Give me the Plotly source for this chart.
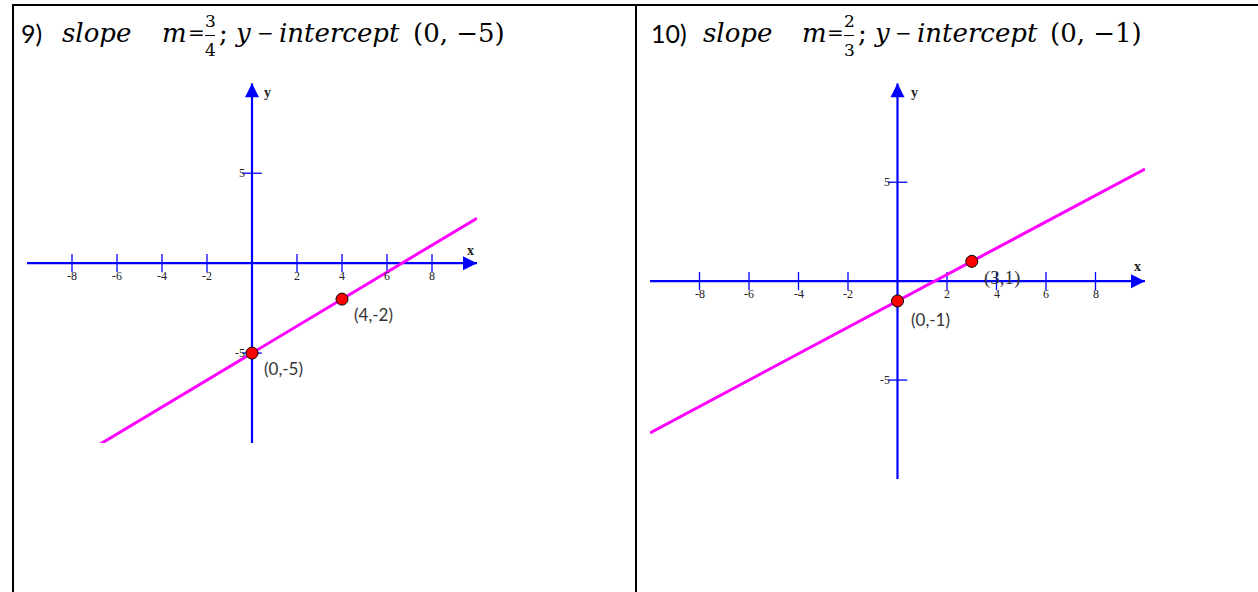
import plotly.graph_objects as go

W, H = 1258, 592

# ---------------- data ----------------
axis_range = [-10, 10]
x_tick_values = [-8, -6, -4, -2, 2, 4, 6, 8]
x_tick_labels = ["-8", "-6", "-4", "-2", "2", "4", "6", "8"]
y_tick_values = [-5, 5]
y_tick_labels = ["-5", "5"]

# problem 9
p1_number = "9)"
p1_slope_num = "3"
p1_slope_den = "4"
p1_intercept_text = "(0, −5)"
p1_line_x = [-10, 10]
p1_line_y = [-12.5, 2.5]
p1_points_x = [0, 4]
p1_points_y = [-5, -2]
p1_point_labels = ["(0,-5)", "(4,-2)"]

# problem 10
p2_number = "10)"
p2_slope_num = "2"
p2_slope_den = "3"
p2_intercept_text = "(0, −1)"
p2_line_x = [-10, 10]
p2_line_y = [-7.667, 5.667]
p2_points_x = [0, 3]
p2_points_y = [-1, 1]
p2_point_labels = ["(0,-1)", "(3,1)"]

# ---------------- helpers (layout positions in pixels) ----------------
def px(x):
    return x / W

def py(y):
    return 1 - y / H

BLUE = "#0000FF"
MAGENTA = "#FF00FF"
RED = "#FF0000"

fig = go.Figure()

panels = [
    dict(xa="x", ya="y", xdom=[px(27), px(477)], ydom=[py(443), py(83.3)],
         line_x=p1_line_x, line_y=p1_line_y, pts_x=p1_points_x, pts_y=p1_points_y,
         labels=p1_point_labels,
         label_shift=[(10, -15), (10, -15)], label_font=["Lato", "Lato"], label_size=[17, 17],
         yt_shift=-5, xl_shift=(-7, 13), yl_shift=(15, -9)),
    dict(xa="x2", ya="y2", xdom=[px(650), px(1145)], ydom=[py(479), py(83.3)],
         line_x=p2_line_x, line_y=p2_line_y, pts_x=p2_points_x, pts_y=p2_points_y,
         labels=p2_point_labels,
         label_shift=[(11, -19), (10, -17)], label_font=["Lato", "Liberation Serif"], label_size=[17, 19],
         yt_shift=-6, xl_shift=(-8, 15), yl_shift=(17, -9)),
]

annotations = []
shapes = []

for i, p in enumerate(panels):
    xa, ya = p["xa"], p["ya"]
    # axes lines
    fig.add_trace(go.Scatter(x=axis_range, y=[0, 0], mode="lines",
                             line=dict(color=BLUE, width=2.2), xaxis=xa, yaxis=ya,
                             hoverinfo="skip", showlegend=False))
    fig.add_trace(go.Scatter(x=[0, 0], y=axis_range, mode="lines",
                             line=dict(color=BLUE, width=2.2), xaxis=xa, yaxis=ya,
                             hoverinfo="skip", showlegend=False))
    # tick marks
    fig.add_trace(go.Scatter(x=x_tick_values, y=[0] * len(x_tick_values), mode="markers",
                             marker=dict(symbol="line-ns", size=13,
                                         line=dict(color=BLUE, width=1.3)),
                             xaxis=xa, yaxis=ya, hoverinfo="skip", showlegend=False,
                             cliponaxis=False))
    fig.add_trace(go.Scatter(x=[0] * len(y_tick_values), y=y_tick_values, mode="markers",
                             marker=dict(symbol="line-ew", size=14,
                                         line=dict(color=BLUE, width=1.3)),
                             xaxis=xa, yaxis=ya, hoverinfo="skip", showlegend=False,
                             cliponaxis=False))
    # graph line
    fig.add_trace(go.Scatter(x=p["line_x"], y=p["line_y"], mode="lines",
                             line=dict(color=MAGENTA, width=3), xaxis=xa, yaxis=ya,
                             hoverinfo="skip", showlegend=False))
    # points
    fig.add_trace(go.Scatter(x=p["pts_x"], y=p["pts_y"], mode="markers",
                             marker=dict(color=RED, size=12, line=dict(color="#000000", width=1)),
                             xaxis=xa, yaxis=ya, showlegend=False, cliponaxis=False))

    xref, yref = xa, ya
    # arrow heads
    annotations.append(dict(x=axis_range[1], y=0, xref=xref, yref=yref, ax=-14, ay=0,
                            axref="pixel", ayref="pixel", text="", showarrow=True,
                            arrowhead=2, arrowsize=1.4, arrowwidth=2, arrowcolor=BLUE))
    annotations.append(dict(x=0, y=axis_range[1], xref=xref, yref=yref, ax=0, ay=14,
                            axref="pixel", ayref="pixel", text="", showarrow=True,
                            arrowhead=2, arrowsize=1.4, arrowwidth=2, arrowcolor=BLUE))
    # tick labels
    for v, t in zip(x_tick_values, x_tick_labels):
        annotations.append(dict(x=v, y=0, xref=xref, yref=yref, text=t, showarrow=False,
                                yshift=-13, xanchor="center", yanchor="middle",
                                font=dict(family="Liberation Serif", size=12, color="#222222")))
    for v, t in zip(y_tick_values, y_tick_labels):
        annotations.append(dict(x=0, y=v, xref=xref, yref=yref, text=t, showarrow=False,
                                xshift=p["yt_shift"], xanchor="right", yanchor="middle",
                                font=dict(family="Liberation Serif", size=12, color="#222222")))
    # axis labels
    annotations.append(dict(x=axis_range[1], y=0, xref=xref, yref=yref, text="<b>x</b>",
                            showarrow=False, xshift=p["xl_shift"][0], yshift=p["xl_shift"][1],
                            xanchor="center", yanchor="middle",
                            font=dict(family="Liberation Serif", size=14, color="#222222")))
    annotations.append(dict(x=0, y=axis_range[1], xref=xref, yref=yref, text="<b>y</b>",
                            showarrow=False, xshift=p["yl_shift"][0], yshift=p["yl_shift"][1],
                            xanchor="center", yanchor="middle",
                            font=dict(family="Liberation Serif", size=14, color="#222222")))
    # point labels
    for xv, yv, lab, sh, fam, fs in zip(p["pts_x"], p["pts_y"], p["labels"],
                                        p["label_shift"], p["label_font"], p["label_size"]):
        annotations.append(dict(x=xv, y=yv, xref=xref, yref=yref, text=lab, showarrow=False,
                                xshift=sh[0], yshift=sh[1], xanchor="left", yanchor="middle",
                                font=dict(family=fam, size=fs, color="#333333")))

# ---------------- headings ----------------
def heading(x0, number, num, den, intercept, pos):
    ty = py(33)
    mfont = dict(family="DejaVu Serif", size=26, color="#000000")
    sfont = dict(family="DejaVu Serif", size=20, color="#000000")
    annotations.append(dict(x=px(x0), y=ty, xref="paper", yref="paper", text=number,
                            showarrow=False, xanchor="left", yanchor="middle",
                            font=dict(family="Lato", size=25, color="#000000")))
    pieces = [("<i>slope</i>", pos[0], mfont), ("<i>m</i>", pos[1], mfont), ("=", pos[2], sfont),
              (";", pos[4], mfont), ("<i>y</i>", pos[5], mfont), ("−", pos[6], sfont),
              ("<i>intercept</i>", pos[7], mfont), (intercept, pos[8], mfont)]
    for txt, xp, f in pieces:
        annotations.append(dict(x=px(xp), y=ty, xref="paper", yref="paper", text=txt,
                                showarrow=False, xanchor="left", yanchor="middle", font=f))
    ffont = dict(family="DejaVu Serif", size=17, color="#000000")
    annotations.append(dict(x=px(pos[3]), y=py(21), xref="paper", yref="paper", text=num,
                            showarrow=False, xanchor="center", yanchor="middle", font=ffont))
    annotations.append(dict(x=px(pos[3]), y=py(50), xref="paper", yref="paper", text=den,
                            showarrow=False, xanchor="center", yanchor="middle", font=ffont))
    shapes.append(dict(type="line", xref="paper", yref="paper",
                       x0=px(pos[3] - 5), x1=px(pos[3] + 5), y0=py(35.5), y1=py(35.5),
                       line=dict(color="#000000", width=1)))

heading(19, p1_number, p1_slope_num, p1_slope_den, p1_intercept_text,
        [60, 160, 186, 210, 217, 233, 255, 277, 411])
heading(649, p2_number, p2_slope_num, p2_slope_den, p2_intercept_text,
        [701, 800, 825, 849, 856, 872, 893, 915, 1048])

# ---------------- table borders ----------------
border = dict(color="#000000", width=2)
shapes.append(dict(type="line", xref="paper", yref="paper", x0=px(12), x1=1, y0=py(5), y1=py(5), line=border))
shapes.append(dict(type="line", xref="paper", yref="paper", x0=px(13), x1=px(13), y0=py(5), y1=0, line=border))
shapes.append(dict(type="line", xref="paper", yref="paper", x0=px(636), x1=px(636), y0=py(5), y1=0, line=border))

axis_common = dict(visible=False, range=axis_range, fixedrange=True, showgrid=False, zeroline=False)
fig.update_layout(
    width=W, height=H, autosize=False,
    margin=dict(l=0, r=0, t=0, b=0),
    paper_bgcolor="white", plot_bgcolor="white",
    showlegend=False,
    xaxis=dict(domain=panels[0]["xdom"], anchor="y", **axis_common),
    yaxis=dict(domain=panels[0]["ydom"], anchor="x", **axis_common),
    xaxis2=dict(domain=panels[1]["xdom"], anchor="y2", **axis_common),
    yaxis2=dict(domain=panels[1]["ydom"], anchor="x2", **axis_common),
    annotations=annotations,
    shapes=shapes,
)

fig.write_html("out.html", config={"displayModeBar": False},
               post_script="document.body.style.margin='0';document.body.style.overflow='hidden';")
